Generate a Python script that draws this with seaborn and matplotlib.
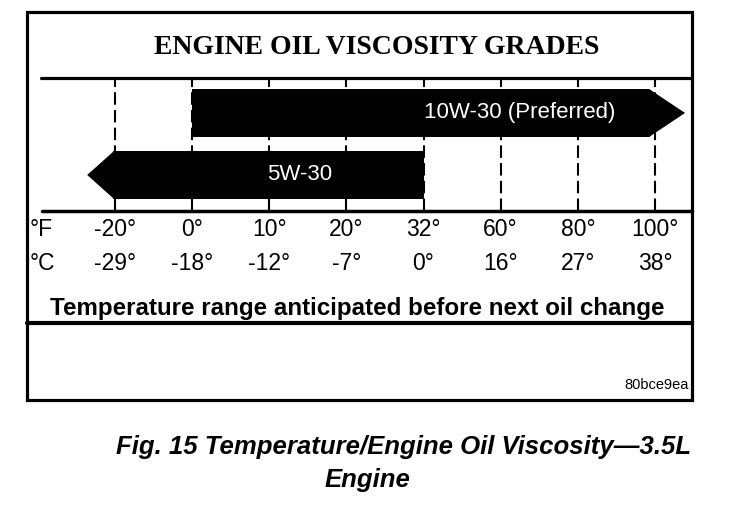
import matplotlib
matplotlib.use('Agg')
import matplotlib.pyplot as plt
import matplotlib.transforms as mtrans
from matplotlib.patches import Rectangle
import numpy as np
import pandas as pd
import seaborn as sns

# Datos del gráfico
temps_f = ['-20°', '0°', '10°', '20°', '32°', '60°', '80°', '100°']
temps_c = ['-29°', '-18°', '-12°', '-7°', '0°', '16°', '27°', '38°']
grades = ['10W-30 (Preferred)', '5W-30']
grade_low = ['0°', '-20°']       # límite inferior en °F
grade_high = ['100°', '32°']     # límite superior en °F
grade_arrow = ['right', 'left']  # extremo abierto (flecha)

W, H = 736, 508

sns.set_theme(style='white')
plt.rcParams['font.family'] = ['Liberation Sans', 'DejaVu Sans']
plt.rcParams['text.color'] = 'black'

fig = plt.figure(figsize=(W / 100, H / 100), dpi=100)
fig.patch.set_facecolor('white')

# Eje de fondo en pixeles para marco y textos
deco = fig.add_axes([0, 0, 1, 1])
deco.set_xlim(0, W)
deco.set_ylim(H, 0)
deco.axis('off')


def px_axes(x0, y0, x1, y1):
    """Crear un eje a partir de una caja en pixeles."""
    return fig.add_axes([x0 / W, 1 - y1 / H, (x1 - x0) / W, (y1 - y0) / H])


# Eje de las barras: x en posiciones de categoría
ax = px_axes(42, 79, 692, 211)
ax.patch.set_alpha(0)

pos = {t: i for i, t in enumerate(temps_f)}
rows = []
for g, lo, hi, arr in zip(grades, grade_low, grade_high, grade_arrow):
    a, b = pos[lo], pos[hi]
    if arr == 'right':
        b = b - 0.06
    else:
        a = a - 0.03
    rows.append({'grade': g, 'left': a, 'span': b - a, 'arrow': arr})
bars = pd.DataFrame(rows)

bar_h = 0.78
sns.barplot(data=bars, x='span', y='grade', orient='h', color='black',
            saturation=1, width=bar_h, errorbar=None, ax=ax,
            left=bars['left'].values, linewidth=0, zorder=3)

# Puntas de flecha
for i, r in bars.iterrows():
    h = bar_h / 2
    if r['arrow'] == 'right':
        base = r['left'] + r['span']
        pts = [(base - 0.02, i - h), (base + 0.45, i), (base - 0.02, i + h)]
    else:
        base = r['left']
        pts = [(base + 0.02, i - h), (base - 0.33, i), (base + 0.02, i + h)]
    ax.fill(*zip(*pts), color='black', lw=0, zorder=3)

ax.set_xlim(-0.946, 7.48)
ax.set_ylim(1.581, -0.548)

# Líneas verticales discontinuas
ax.vlines(range(len(temps_f)), 1.581, -0.548, colors='black', lw=1.5,
          linestyles=(0, (6, 2.5)), zorder=1)

ax.text(5.25, 0, grades[0], color='white', ha='center', va='center',
        fontsize=16, zorder=4)
ax.text(2.4, 1, grades[1], color='white', ha='center', va='center',
        fontsize=16, zorder=4)
ax.axis('off')

# Marco
deco.add_patch(Rectangle((27, 12), 665, 388, fill=False, ec='black', lw=2.3))
deco.plot([41, 692], [78, 78], color='black', lw=2.3)
deco.plot([42, 692], [211, 211], color='black', lw=2.5)
deco.plot([27, 692], [323, 323], color='black', lw=3)

# Etiquetas de temperatura
tr = mtrans.blended_transform_factory(ax.transData, deco.transData)
for i, (tf, tc) in enumerate(zip(temps_f, temps_c)):
    deco.text(i, 229, tf, transform=tr, ha='center', va='center', fontsize=16.5)
    deco.text(i, 263, tc, transform=tr, ha='center', va='center', fontsize=16.5)
deco.text(30, 229, '°F', ha='left', va='center', fontsize=16.5)
deco.text(30, 263, '°C', ha='left', va='center', fontsize=16.5)

deco.text(377, 47, 'ENGINE OIL VISCOSITY GRADES', ha='center', va='center',
          fontsize=20, fontweight='bold', family='Liberation Serif')
deco.text(357, 308, 'Temperature range anticipated before next oil change',
          ha='center', va='center', fontsize=17.4, fontweight='bold')
deco.text(689, 385, '80bce9ea', ha='right', va='center', fontsize=10.5)

deco.text(404, 447, 'Fig. 15 Temperature/Engine Oil Viscosity\u20143.5L',
          ha='center', va='center', fontsize=18.5, fontweight='bold', style='italic')
deco.text(367, 480, 'Engine', ha='center', va='center', fontsize=18.5,
          fontweight='bold', style='italic')

fig.savefig('out.png', dpi=100)
